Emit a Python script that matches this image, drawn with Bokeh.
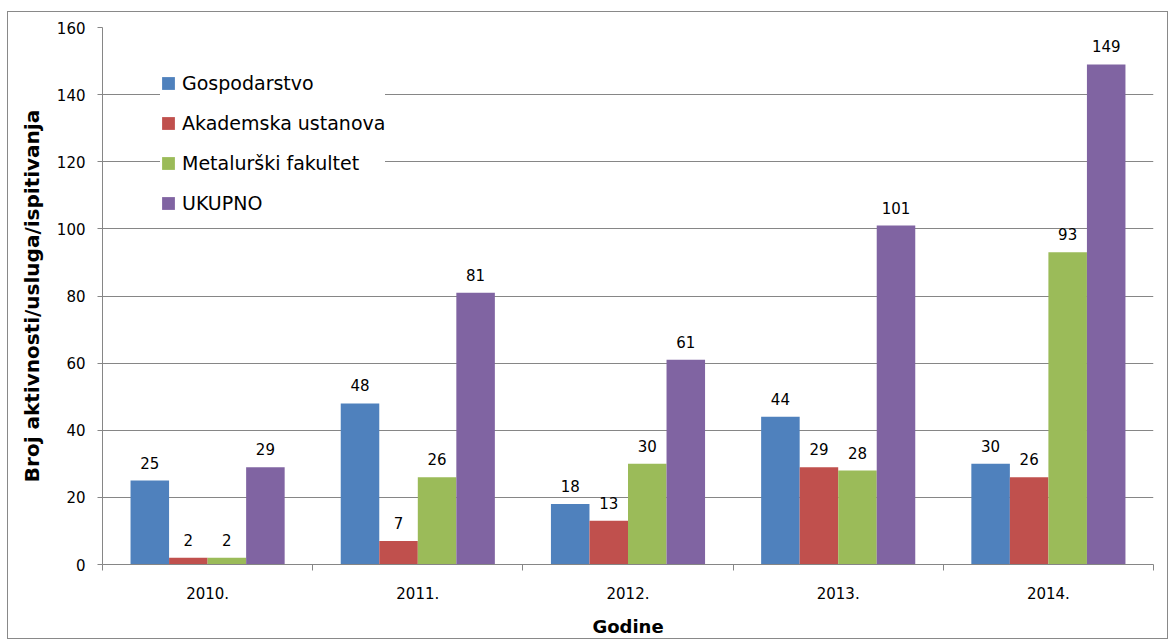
from bokeh.plotting import figure
from bokeh.models import Range1d, FixedTicker, Legend, LegendItem, ColumnDataSource
from bokeh.embed import file_html
from bokeh.resources import INLINE
from bokeh.core.properties import value

years = ["2010.", "2011.", "2012.", "2013.", "2014."]
series_names = ["Gospodarstvo", "Akademska ustanova", "Metalurški fakultet", "UKUPNO"]
gospodarstvo = [25, 48, 18, 44, 30]
akademska = [2, 7, 13, 29, 26]
metalurski = [2, 26, 30, 28, 93]
ukupno = [29, 81, 61, 101, 149]
y_ticks = [0, 20, 40, 60, 80, 100, 120, 140, 160]

series_values = [gospodarstvo, akademska, metalurski, ukupno]
colors = ["#4F81BD", "#C0504D", "#9BBB59", "#8064A2"]

FONT = "DejaVu Sans"
GRID = "#868686"

p = figure(width=1161, height=628, output_backend="svg", toolbar_location=None,
           x_range=Range1d(0, len(years)), y_range=Range1d(0, 160),
           min_border_left=94, min_border_right=16, min_border_top=15, min_border_bottom=76)
p.styles = {"border": "1px solid #898989", "margin-left": "7px", "margin-top": "11px"}
p.outline_line_color = None
p.background_fill_color = "white"
p.border_fill_color = "white"

bar_w = 0.1833
offsets = [-1.5 * bar_w, -0.5 * bar_w, 0.5 * bar_w, 1.5 * bar_w]

items = []
for name, vals, col, off in zip(series_names, series_values, colors, offsets):
    xs = [i + 0.5 + off for i in range(len(years))]
    src = ColumnDataSource(dict(x=xs, top=vals, lab=[str(v) for v in vals]))
    r = p.vbar(x="x", top="top", width=bar_w, source=src, fill_color=col, line_color=None)
    p.text(x="x", y="top", text="lab", source=src, text_align="center",
           text_baseline="alphabetic", y_offset=-18, text_font=value(FONT),
           text_font_size="15px", text_color="black")
    items.append(LegendItem(label=name, renderers=[r]))

legend = Legend(items=items, location=(58, 350), orientation="vertical")
legend.background_fill_color = "white"
legend.background_fill_alpha = 1
legend.border_line_color = None
legend.glyph_width = 16
legend.glyph_height = 16
legend.label_standoff = 6
legend.label_text_font = FONT
legend.label_text_font_size = "19px"
legend.label_text_color = "black"
legend.label_height = 20
legend.spacing = 18
legend.padding = 8
legend.margin = 0
p.add_layout(legend, "center")

# y axis
p.yaxis.ticker = FixedTicker(ticks=y_ticks)
p.yaxis.axis_line_color = GRID
p.yaxis.major_tick_line_color = GRID
p.yaxis.major_tick_out = 5
p.yaxis.major_tick_in = 0
p.yaxis.minor_tick_line_color = None
p.yaxis.major_label_text_font = FONT
p.yaxis.major_label_text_font_size = "15px"
p.yaxis.major_label_text_color = "black"
p.yaxis.major_label_standoff = 12
p.yaxis.axis_label = "Broj aktivnosti/usluga/ispitivanja"
p.yaxis.axis_label_text_font = FONT
p.yaxis.axis_label_text_font_size = "20px"
p.yaxis.axis_label_text_font_style = "bold"
p.yaxis.axis_label_text_color = "black"
p.yaxis.axis_label_standoff = 10

# x axis
p.xaxis.ticker = FixedTicker(ticks=[i + 0.5 for i in range(len(years))],
                             minor_ticks=list(range(len(years) + 1)))
p.xaxis.major_label_overrides = {i + 0.5: y for i, y in enumerate(years)}
p.xaxis.axis_line_color = GRID
p.xaxis.major_tick_line_color = None
p.xaxis.minor_tick_line_color = GRID
p.xaxis.minor_tick_out = 6
p.xaxis.minor_tick_in = 0
p.xaxis.major_label_text_font = FONT
p.xaxis.major_label_text_font_size = "15px"
p.xaxis.major_label_text_color = "black"
p.xaxis.major_label_standoff = 16
p.xaxis.axis_label = "Godine"
p.xaxis.axis_label_text_font = FONT
p.xaxis.axis_label_text_font_size = "18px"
p.xaxis.axis_label_text_font_style = "bold"
p.xaxis.axis_label_text_color = "black"
p.xaxis.axis_label_standoff = 14

p.xgrid.grid_line_color = None
p.ygrid.grid_line_color = GRID
p.ygrid.grid_line_width = 1

open("out.html", "w").write(file_html(p, INLINE))
